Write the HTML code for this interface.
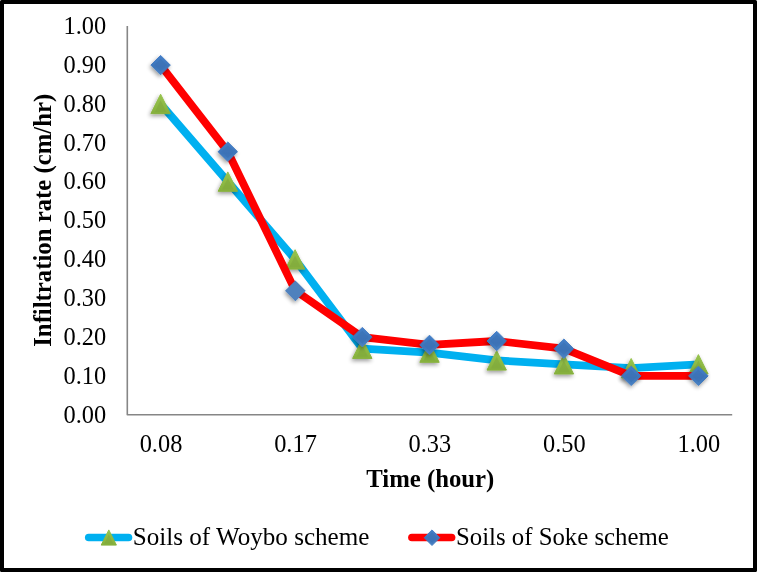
<!DOCTYPE html>
<html lang="en"><head><meta charset="utf-8"><title>Infiltration rate chart</title>
<style>
html,body{margin:0;padding:0;background:#fff;}
body{width:757px;height:572px;overflow:hidden;}
#frame{position:absolute;left:0;top:0;width:749px;height:564px;border:4px solid #000;background:#fff;border-radius:1.5px;}
svg{position:absolute;left:0;top:0;display:block;}
text{font-family:"Liberation Serif",serif;fill:#000;}
.t{font-size:24.4px;}
.b{font-size:24.75px;font-weight:bold;}
</style></head><body>
<div id="frame"></div>
<svg width="757" height="572" viewBox="0 0 757 572">
<defs>
<linearGradient id="gd" x1="0" y1="0" x2="0" y2="1" gradientUnits="objectBoundingBox"><stop offset="0" stop-color="#447FC8"/><stop offset="0.6" stop-color="#3D75BA"/><stop offset="1" stop-color="#4A82C4"/></linearGradient>
<linearGradient id="gt" x1="0" y1="0" x2="0" y2="1" gradientUnits="objectBoundingBox"><stop offset="0" stop-color="#97C34D"/><stop offset="0.7" stop-color="#8BB742"/><stop offset="1" stop-color="#86B03C"/></linearGradient>
<filter id="sh" x="-40%" y="-40%" width="180%" height="180%"><feGaussianBlur in="SourceAlpha" stdDeviation="2.1"/><feOffset dx="-1" dy="2" result="o"/><feComponentTransfer><feFuncA type="linear" slope="0.4"/></feComponentTransfer><feMerge><feMergeNode/><feMergeNode in="SourceGraphic"/></feMerge></filter>
<filter id="bl" x="-30%" y="-30%" width="160%" height="160%"><feGaussianBlur stdDeviation="0.7"/></filter>
</defs>
<path d="M127.3 26.0V414.8H732.2" fill="none" stroke="#868686" stroke-width="1.6" stroke-linejoin="round"/>
<text class="t" x="106.2" y="422.5" text-anchor="end">0.00</text>
<text class="t" x="106.2" y="383.6" text-anchor="end">0.10</text>
<text class="t" x="106.2" y="344.8" text-anchor="end">0.20</text>
<text class="t" x="106.2" y="305.9" text-anchor="end">0.30</text>
<text class="t" x="106.2" y="267.1" text-anchor="end">0.40</text>
<text class="t" x="106.2" y="228.2" text-anchor="end">0.50</text>
<text class="t" x="106.2" y="189.3" text-anchor="end">0.60</text>
<text class="t" x="106.2" y="150.5" text-anchor="end">0.70</text>
<text class="t" x="106.2" y="111.6" text-anchor="end">0.80</text>
<text class="t" x="106.2" y="72.8" text-anchor="end">0.90</text>
<text class="t" x="106.2" y="33.9" text-anchor="end">1.00</text>
<text class="t" x="161.0" y="452.3" text-anchor="middle">0.08</text>
<text class="t" x="295.5" y="452.3" text-anchor="middle">0.17</text>
<text class="t" x="429.9" y="452.3" text-anchor="middle">0.33</text>
<text class="t" x="564.3" y="452.3" text-anchor="middle">0.50</text>
<text class="t" x="698.8" y="452.3" text-anchor="middle">1.00</text>
<text class="b" x="430.3" y="486.7" text-anchor="middle">Time (hour)</text>
<text class="b" transform="translate(51.4 220.3) rotate(-90)" text-anchor="middle">Infiltration rate (cm/hr)</text>
<polyline points="160.6,103.9 227.8,181.6 295.1,259.4 362.3,348.7 429.5,352.6 496.7,360.4 563.9,364.3 631.2,368.2 698.4,364.3" fill="none" stroke="#00B0F0" stroke-width="7.8" stroke-linejoin="round" stroke-linecap="round"/>
<g filter="url(#sh)"><path d="M160.6 94.2L170.3 113.6L150.9 113.6Z" fill="url(#gt)" stroke="url(#gt)" stroke-width="1" stroke-linejoin="round"/><path d="M160.6 100.2L166.4 111.9L154.8 111.9Z" fill="#80A83C" opacity="0.6" filter="url(#bl)"/><path d="M227.8 171.9L237.5 191.3L218.1 191.3Z" fill="url(#gt)" stroke="url(#gt)" stroke-width="1" stroke-linejoin="round"/><path d="M227.8 178.0L233.7 189.6L222.0 189.6Z" fill="#80A83C" opacity="0.6" filter="url(#bl)"/><path d="M295.1 249.7L304.8 269.1L285.4 269.1Z" fill="url(#gt)" stroke="url(#gt)" stroke-width="1" stroke-linejoin="round"/><path d="M295.1 255.7L300.9 267.3L289.2 267.3Z" fill="#80A83C" opacity="0.6" filter="url(#bl)"/><path d="M362.3 339.0L372.0 358.4L352.6 358.4Z" fill="url(#gt)" stroke="url(#gt)" stroke-width="1" stroke-linejoin="round"/><path d="M362.3 345.1L368.1 356.7L356.5 356.7Z" fill="#80A83C" opacity="0.6" filter="url(#bl)"/><path d="M429.5 342.9L439.2 362.3L419.8 362.3Z" fill="url(#gt)" stroke="url(#gt)" stroke-width="1" stroke-linejoin="round"/><path d="M429.5 348.9L435.3 360.6L423.7 360.6Z" fill="#80A83C" opacity="0.6" filter="url(#bl)"/><path d="M496.7 350.7L506.4 370.1L487.0 370.1Z" fill="url(#gt)" stroke="url(#gt)" stroke-width="1" stroke-linejoin="round"/><path d="M496.7 356.7L502.5 368.4L490.9 368.4Z" fill="#80A83C" opacity="0.6" filter="url(#bl)"/><path d="M563.9 354.6L573.6 374.0L554.2 374.0Z" fill="url(#gt)" stroke="url(#gt)" stroke-width="1" stroke-linejoin="round"/><path d="M563.9 360.6L569.8 372.2L558.1 372.2Z" fill="#80A83C" opacity="0.6" filter="url(#bl)"/><path d="M631.2 358.5L640.9 377.9L621.5 377.9Z" fill="url(#gt)" stroke="url(#gt)" stroke-width="1" stroke-linejoin="round"/><path d="M631.2 364.5L637.0 376.1L625.3 376.1Z" fill="#80A83C" opacity="0.6" filter="url(#bl)"/><path d="M698.4 354.6L708.1 374.0L688.7 374.0Z" fill="url(#gt)" stroke="url(#gt)" stroke-width="1" stroke-linejoin="round"/><path d="M698.4 360.6L704.2 372.2L692.6 372.2Z" fill="#80A83C" opacity="0.6" filter="url(#bl)"/></g>
<polyline points="160.6,65.1 227.8,151.7 295.1,290.4 362.3,337.1 429.5,344.9 496.7,341.0 563.9,348.7 631.2,375.9 698.4,375.9" fill="none" stroke="#FF0000" stroke-width="7.8" stroke-linejoin="round" stroke-linecap="round"/>
<g filter="url(#sh)"><path d="M160.6 55.4L170.3 65.1L160.6 74.8L150.9 65.1Z" fill="url(#gd)" stroke="url(#gd)" stroke-width="1" stroke-linejoin="round"/><path d="M160.6 58.7L167.0 65.1L160.6 71.5L154.2 65.1Z" fill="#3A70B3" opacity="0.55" filter="url(#bl)"/><path d="M227.8 142.0L237.5 151.7L227.8 161.4L218.1 151.7Z" fill="url(#gd)" stroke="url(#gd)" stroke-width="1" stroke-linejoin="round"/><path d="M227.8 145.3L234.2 151.7L227.8 158.1L221.4 151.7Z" fill="#3A70B3" opacity="0.55" filter="url(#bl)"/><path d="M295.4 280.5L305.7 290.8L295.4 301.2L285.0 290.8Z" fill="#4F81BD"/><path d="M362.3 327.4L372.0 337.1L362.3 346.8L352.6 337.1Z" fill="url(#gd)" stroke="url(#gd)" stroke-width="1" stroke-linejoin="round"/><path d="M362.3 330.7L368.7 337.1L362.3 343.5L355.9 337.1Z" fill="#3A70B3" opacity="0.55" filter="url(#bl)"/><path d="M429.5 335.2L439.2 344.9L429.5 354.6L419.8 344.9Z" fill="url(#gd)" stroke="url(#gd)" stroke-width="1" stroke-linejoin="round"/><path d="M429.5 338.4L435.9 344.9L429.5 351.3L423.1 344.9Z" fill="#3A70B3" opacity="0.55" filter="url(#bl)"/><path d="M496.7 331.3L506.4 341.0L496.7 350.7L487.0 341.0Z" fill="url(#gd)" stroke="url(#gd)" stroke-width="1" stroke-linejoin="round"/><path d="M496.7 334.6L503.1 341.0L496.7 347.4L490.3 341.0Z" fill="#3A70B3" opacity="0.55" filter="url(#bl)"/><path d="M563.9 339.0L573.6 348.7L563.9 358.4L554.2 348.7Z" fill="url(#gd)" stroke="url(#gd)" stroke-width="1" stroke-linejoin="round"/><path d="M563.9 342.3L570.3 348.7L563.9 355.1L557.5 348.7Z" fill="#3A70B3" opacity="0.55" filter="url(#bl)"/><path d="M631.2 366.2L640.9 375.9L631.2 385.6L621.5 375.9Z" fill="url(#gd)" stroke="url(#gd)" stroke-width="1" stroke-linejoin="round"/><path d="M631.2 369.5L637.6 375.9L631.2 382.3L624.8 375.9Z" fill="#3A70B3" opacity="0.55" filter="url(#bl)"/><path d="M698.4 366.2L708.1 375.9L698.4 385.6L688.7 375.9Z" fill="url(#gd)" stroke="url(#gd)" stroke-width="1" stroke-linejoin="round"/><path d="M698.4 369.5L704.8 375.9L698.4 382.3L692.0 375.9Z" fill="#3A70B3" opacity="0.55" filter="url(#bl)"/></g>
<path d="M88.7 537.5H128.5" stroke="#00B0F0" stroke-width="7.6" stroke-linecap="round" fill="none"/>
<path d="M108.8 529.9L116.4 545.1L101.2 545.1Z" fill="url(#gt)" stroke="url(#gt)" stroke-width="1" stroke-linejoin="round"/><path d="M108.8 534.6L113.4 543.7L104.2 543.7Z" fill="#80A83C" opacity="0.6" filter="url(#bl)"/>
<text class="t" style="font-size:25.1px" x="132.8" y="544.6">Soils of Woybo scheme</text>
<path d="M411.9 537.5H451.6" stroke="#FF0000" stroke-width="7.6" stroke-linecap="round" fill="none"/>
<path d="M432.0 529.9L439.8 537.7L432.0 545.5L424.2 537.7Z" fill="url(#gd)" stroke="url(#gd)" stroke-width="1" stroke-linejoin="round"/><path d="M432.0 532.6L437.1 537.7L432.0 542.8L426.9 537.7Z" fill="#3A70B3" opacity="0.55" filter="url(#bl)"/>
<text class="t" style="font-size:24.8px" x="456" y="544.6">Soils of Soke scheme</text>
</svg></body></html>
